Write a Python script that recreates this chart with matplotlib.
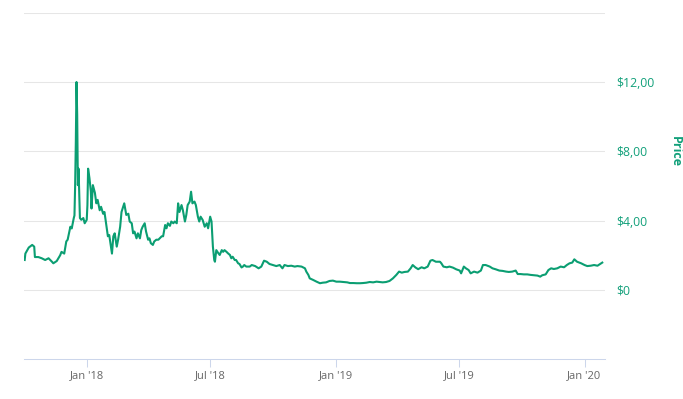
import matplotlib
matplotlib.use("Agg")
import matplotlib.pyplot as plt
import pandas as pd

dates = [
    "2017-10-02", "2017-10-03", "2017-10-08", "2017-10-13", "2017-10-16", "2017-10-17",
    "2017-10-22", "2017-10-27", "2017-11-01", "2017-11-06", "2017-11-11", "2017-11-13",
    "2017-11-18", "2017-11-23", "2017-11-25", "2017-11-29", "2017-12-02", "2017-12-04",
    "2017-12-08", "2017-12-10", "2017-12-13", "2017-12-14", "2017-12-15", "2017-12-16",
    "2017-12-17", "2017-12-18", "2017-12-19", "2017-12-20", "2017-12-21", "2017-12-22",
    "2017-12-24", "2017-12-27", "2017-12-29", "2018-01-01", "2018-01-02", "2018-01-03",
    "2018-01-05", "2018-01-07", "2018-01-08", "2018-01-10", "2018-01-13", "2018-01-15",
    "2018-01-17", "2018-01-20", "2018-01-22", "2018-01-25", "2018-01-27", "2018-01-29",
    "2018-02-01", "2018-02-03", "2018-02-07", "2018-02-09", "2018-02-11", "2018-02-14",
    "2018-02-16", "2018-02-19", "2018-02-21", "2018-02-25", "2018-02-28", "2018-03-03",
    "2018-03-05", "2018-03-08", "2018-03-10", "2018-03-12", "2018-03-15", "2018-03-17",
    "2018-03-20", "2018-03-22", "2018-03-24", "2018-03-27", "2018-03-29", "2018-04-01",
    "2018-04-03", "2018-04-05", "2018-04-08", "2018-04-10", "2018-04-13", "2018-04-16",
    "2018-04-18", "2018-04-21", "2018-04-23", "2018-04-26", "2018-04-28", "2018-04-30",
    "2018-05-03", "2018-05-05", "2018-05-08", "2018-05-10", "2018-05-13", "2018-05-15",
    "2018-05-17", "2018-05-20", "2018-05-22", "2018-05-25", "2018-05-27", "2018-05-29",
    "2018-06-01", "2018-06-03", "2018-06-05", "2018-06-08", "2018-06-10", "2018-06-13",
    "2018-06-15", "2018-06-17", "2018-06-20", "2018-06-23", "2018-06-26", "2018-06-28",
    "2018-07-01", "2018-07-03", "2018-07-05", "2018-07-07", "2018-07-08", "2018-07-10",
    "2018-07-13", "2018-07-15", "2018-07-18", "2018-07-20", "2018-07-22", "2018-07-25",
    "2018-07-27", "2018-07-30", "2018-08-01", "2018-08-03", "2018-08-06", "2018-08-08",
    "2018-08-11", "2018-08-13", "2018-08-16", "2018-08-18", "2018-08-20", "2018-08-23",
    "2018-08-25", "2018-08-28", "2018-08-31", "2018-09-05", "2018-09-10", "2018-09-14",
    "2018-09-18", "2018-09-22", "2018-09-26", "2018-10-01", "2018-10-06", "2018-10-11",
    "2018-10-15", "2018-10-18", "2018-10-23", "2018-10-28", "2018-11-02", "2018-11-06",
    "2018-11-12", "2018-11-17", "2018-11-19", "2018-11-22", "2018-11-24", "2018-11-29",
    "2018-12-04", "2018-12-09", "2018-12-13", "2018-12-18", "2018-12-23", "2018-12-28",
    "2019-01-02", "2019-01-07", "2019-01-12", "2019-01-18", "2019-01-22", "2019-01-27",
    "2019-02-01", "2019-02-06", "2019-02-10", "2019-02-15", "2019-02-20", "2019-02-25",
    "2019-03-02", "2019-03-06", "2019-03-11", "2019-03-16", "2019-03-21", "2019-03-26",
    "2019-03-31", "2019-04-04", "2019-04-08", "2019-04-12", "2019-04-17", "2019-04-21",
    "2019-04-24", "2019-04-28", "2019-05-02", "2019-05-07", "2019-05-11", "2019-05-16",
    "2019-05-20", "2019-05-23", "2019-05-28", "2019-06-03", "2019-06-05", "2019-06-08",
    "2019-06-13", "2019-06-17", "2019-06-22", "2019-06-27", "2019-07-02", "2019-07-04",
    "2019-07-08", "2019-07-11", "2019-07-15", "2019-07-18", "2019-07-23", "2019-07-28",
    "2019-08-02", "2019-08-05", "2019-08-09", "2019-08-15", "2019-08-19", "2019-08-24",
    "2019-08-29", "2019-09-03", "2019-09-08", "2019-09-12", "2019-09-17", "2019-09-22",
    "2019-09-25", "2019-09-29", "2019-10-04", "2019-10-09", "2019-10-14", "2019-10-19",
    "2019-10-24", "2019-10-28", "2019-10-31", "2019-11-05", "2019-11-09", "2019-11-13",
    "2019-11-17", "2019-11-22", "2019-11-27", "2019-12-02", "2019-12-06", "2019-12-10",
    "2019-12-14", "2019-12-17", "2019-12-21", "2019-12-27", "2020-01-01", "2020-01-05",
    "2020-01-10", "2020-01-15", "2020-01-20", "2020-01-24", "2020-01-27",
]

prices = [
    1.73, 2.10, 2.45, 2.60, 2.50, 1.90,
    1.90, 1.83, 1.73, 1.83, 1.63, 1.54,
    1.67, 2.00, 2.20, 2.10, 2.80, 2.90,
    3.65, 3.55, 4.15, 4.30, 6.05, 8.55,
    12.00, 10.10, 6.05, 7.00, 5.50, 4.15,
    4.05, 4.15, 3.85, 4.05, 4.90, 7.00,
    6.45, 5.70, 4.70, 6.05, 5.60, 5.00,
    5.20, 4.60, 4.80, 4.40, 4.50, 3.95,
    3.10, 3.17, 2.10, 3.10, 3.27, 2.50,
    2.90, 3.65, 4.50, 5.00, 4.33, 4.40,
    3.95, 3.85, 3.27, 3.37, 2.98, 3.27,
    2.98, 3.46, 3.65, 3.85, 3.37, 2.90,
    2.98, 2.70, 2.60, 2.80, 2.90, 2.90,
    2.98, 3.10, 3.10, 3.75, 3.56, 3.85,
    3.70, 3.95, 3.85, 3.95, 3.85, 5.00,
    4.50, 4.90, 4.60, 3.95, 4.33, 4.90,
    5.10, 5.67, 5.00, 5.10, 4.90, 4.23,
    3.95, 4.23, 4.04, 3.65, 3.85, 3.56,
    4.23, 3.95, 2.50, 1.73, 1.63, 2.30,
    2.12, 2.02, 2.30, 2.20, 2.30, 2.20,
    2.12, 2.02, 1.83, 1.92, 1.73, 1.73,
    1.54, 1.50, 1.30, 1.35, 1.44, 1.35,
    1.35, 1.35, 1.44, 1.38, 1.25, 1.35,
    1.69, 1.63, 1.50, 1.44, 1.38, 1.44,
    1.25, 1.44, 1.38, 1.40, 1.35, 1.38,
    1.35, 1.25, 1.06, 0.87, 0.67, 0.58,
    0.48, 0.39, 0.42, 0.44, 0.52, 0.54,
    0.48, 0.48, 0.46, 0.44, 0.40, 0.40,
    0.39, 0.39, 0.40, 0.42, 0.46, 0.44,
    0.48, 0.46, 0.44, 0.46, 0.52, 0.67,
    0.87, 1.06, 1.00, 1.04, 1.06, 1.25,
    1.44, 1.30, 1.20, 1.31, 1.25, 1.35,
    1.69, 1.73, 1.63, 1.63, 1.54, 1.35,
    1.31, 1.35, 1.29, 1.19, 1.12, 0.96,
    1.35, 1.25, 1.15, 0.96, 1.06, 1.00,
    1.12, 1.44, 1.44, 1.35, 1.25, 1.19,
    1.12, 1.10, 1.06, 1.04, 1.06, 1.12,
    0.92, 0.92, 0.90, 0.90, 0.87, 0.85,
    0.83, 0.77, 0.85, 0.90, 1.15, 1.25,
    1.21, 1.25, 1.35, 1.31, 1.44, 1.54,
    1.58, 1.77, 1.63, 1.54, 1.44, 1.38,
    1.40, 1.44, 1.40, 1.50, 1.58,
]

y_ticks = [0, 4, 8, 12, 16]
y_tick_labels = ["$0", "$4,00", "$8,00", "$12,00", ""]
x_ticks = ["2018-01-01", "2018-07-01", "2019-01-01", "2019-07-01", "2020-01-01"]
x_tick_labels = ["Jan '18", "Jul '18", "Jan '19", "Jul '19", "Jan '20"]
axis_title = "Price"

LINE = "#0b9e72"
LABEL = "#12a07a"

plt.rcParams['font.family'] = ['Open Sans', 'DejaVu Sans']

fig = plt.figure(figsize=(6.83, 3.99), dpi=100)
W, H = 683, 399
left, right, top, bottom = 24, 605, 12.7, 359.3
ax = fig.add_axes([left / W, (H - bottom) / H, (right - left) / W, (bottom - top) / H])

x = pd.to_datetime(dates)
ax.plot(x, prices, color=LINE, lw=1.5, solid_joinstyle='round')

ax.set_xlim(pd.Timestamp("2017-10-01"), pd.Timestamp("2020-01-31"))
ax.set_ylim(-4, 16)

ax.set_yticks(y_ticks)
ax.set_yticklabels(y_tick_labels)
ax.yaxis.tick_right()
ax.tick_params(axis='y', length=0, pad=8, labelsize=8.8, labelcolor=LABEL)
ax.grid(axis='y', color='#e6e6e6', lw=0.75)
ax.set_axisbelow(True)

ax.set_xticks(pd.to_datetime(x_ticks))
ax.set_xticklabels(x_tick_labels)
ax.tick_params(axis='x', length=6, width=0.75, color='#ccd6eb', labelsize=8,
               labelcolor='#666666', pad=1.5)

for s in ['left', 'top', 'right']:
    ax.spines[s].set_visible(False)
ax.spines['bottom'].set_color('#ccd6eb')
ax.spines['bottom'].set_linewidth(0.75)

fig.text(675 / W, 1 - 151 / H, axis_title, rotation=270, color=LABEL,
         fontsize=9, fontweight='bold', ha='center', va='center')

fig.savefig("out.png", dpi=100, facecolor='white')
